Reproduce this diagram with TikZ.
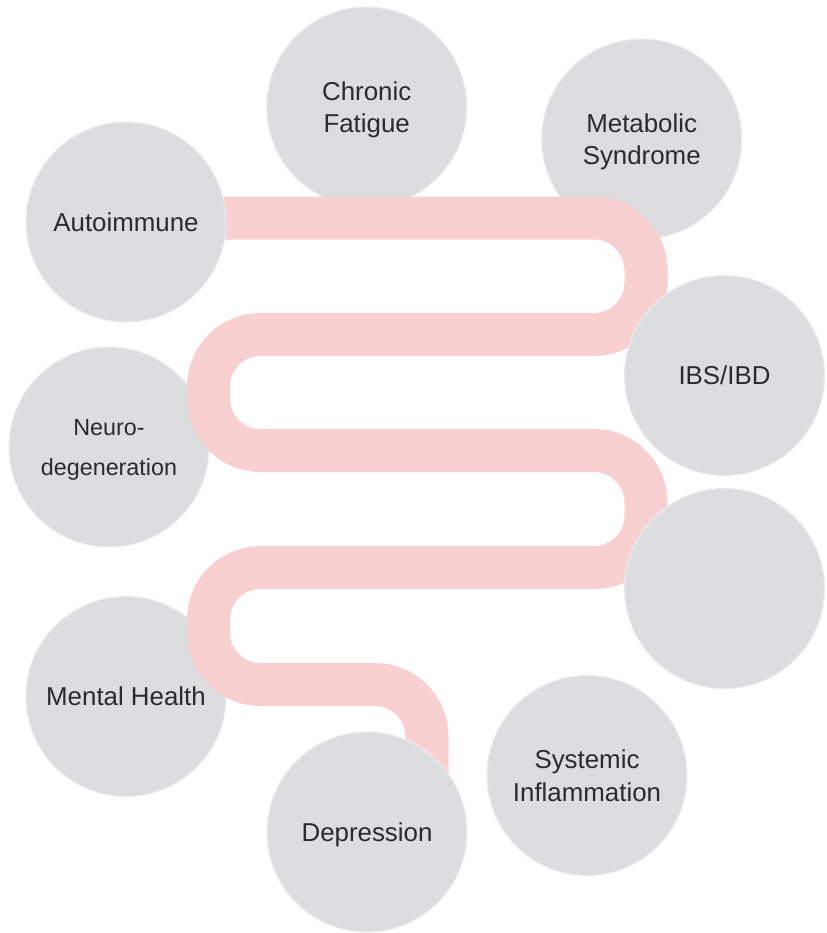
\documentclass[tikz,border=0pt]{standalone}
\usepackage{fontspec}
\setmainfont{Liberation Sans}
\definecolor{blobgray}{HTML}{DCDDDF}
\definecolor{blobedge}{HTML}{ECECEC}
\definecolor{gutpink}{HTML}{F8D0D1}
\definecolor{labelgray}{HTML}{2B2B2B}

\begin{document}
\begin{tikzpicture}[x=0.75pt,y=-0.75pt,
		blob/.style={circle,fill=blobgray,draw=blobedge,line width=0.8pt,minimum size=150pt,inner sep=0pt,text depth=0pt,align=center,text=labelgray,font=\fontsize{19.4}{24.5}\selectfont},
		gut/.style={draw=gutpink,line width=32.25pt}]
		\useasboundingbox (0,0) rectangle (826,933);

		% circles behind the gut
		\node[blob] (fatigue) at (366.7,107) {Chronic\\Fatigue};
		\node[blob] (metabolic) at (641.7,139) {Metabolic\\Syndrome};
		\node[blob,font=\fontsize{17.5}{30}\selectfont] (neuro) at (109,447) {Neuro-\\degeneration};
		\node[blob] (mental) at (126,696.5) {Mental Health};

		% the gut
		\draw[gut,rounded corners=39pt] (180,218) -- (646,218) -- (646,334.5) -- (208.5,334.5) -- (208.5,450.5) -- (646,450.5) -- (646,567.5) -- (208.5,567.5) -- (208.5,684.5) -- (427,684.5) [rounded corners=25.5pt] -- (427,800);

		% circles in front of the gut
		\node[blob] (autoimmune) at (126,222) {Autoimmune};
		\node[blob] (ibs) at (724.5,375.5) {IBS/IBD};
		\node[blob] (blank) at (724.5,588.5) {};
		\node[blob] (depression) at (367,832) {Depression};
		\node[blob] (systemic) at (587,775.5) {Systemic\\Inflammation};
	\end{tikzpicture}
\end{document}
